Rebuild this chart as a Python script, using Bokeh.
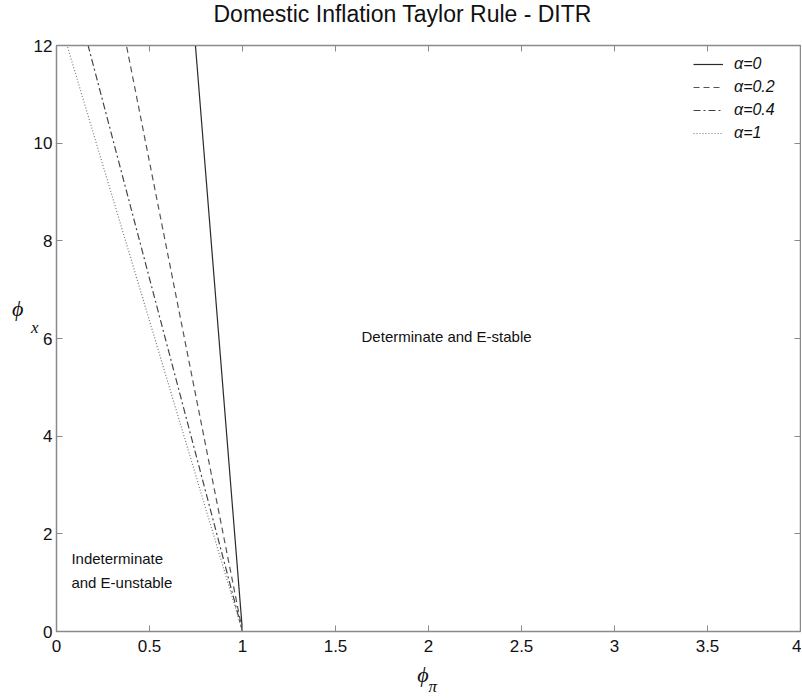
from bokeh.plotting import figure
from bokeh.models import LinearAxis, Legend, LegendItem, Range1d, FixedTicker, CustomJSTickFormatter, Label
from bokeh.embed import file_html
from bokeh.resources import INLINE

# data
series_labels = ["α=0", "α=0.2", "α=0.4", "α=1"]
phi_pi_at_top = [0.747, 0.376, 0.17, 0.057]   # phi_pi where boundary reaches phi_x = 12
phi_pi_at_zero = [1.0, 1.0, 1.0, 1.0]         # all boundaries pass through (1, 0)
phi_x_top = 12
phi_x_zero = 0
x_ticks = [0, 0.5, 1, 1.5, 2, 2.5, 3, 3.5, 4]
y_ticks = [0, 2, 4, 6, 8, 10, 12]

dashes = ["solid", "6 4", "7 3 2 3", "1 2"]
colors = ["#2a2a2a", "#555555", "#444444", "#777777"]

FONT = "Liberation Sans"
SERIF = "Liberation Serif"
FRAME = "#8a8a8a"
NB = "\u00a0"

p = figure(width=801, height=698, output_backend="svg", toolbar_location=None,
           x_range=Range1d(0, 4), y_range=Range1d(0, 12),
           x_axis_location=None, y_axis_location=None,
           min_border_left=56, min_border_right=1, min_border_top=45, min_border_bottom=67)
p.title.text = "Domestic Inflation Taylor Rule - DITR"
p.title.text_font = FONT
p.title.text_font_size = "23px"
p.title.text_font_style = "normal"
p.title.text_color = "#111111"
p.title.align = "left"
p.title.vertical_align = "top"
p.title.offset = 157
p.title.standoff = 0

p.grid.visible = False
p.outline_line_color = FRAME
p.outline_line_width = 1.5
p.background_fill_color = "white"
p.border_fill_color = "white"


def mk_axis(ticks, labels=True):
    ax = LinearAxis()
    ax.ticker = FixedTicker(ticks=ticks)
    ax.axis_line_color = FRAME
    ax.major_tick_line_color = FRAME
    ax.major_tick_in = 6
    ax.major_tick_out = 0
    ax.minor_tick_line_color = None
    ax.major_label_text_font = FONT
    ax.major_label_text_color = "#111111"
    ax.major_label_text_font_size = "17px"
    ax.axis_label_text_font = SERIF
    ax.axis_label_text_font_style = "italic"
    ax.axis_label_text_color = "#111111"
    if not labels:
        ax.formatter = CustomJSTickFormatter(code="return ''")
        ax.major_label_standoff = 0
    return ax


def label_axis(text, size, standoff):
    ax = LinearAxis()
    ax.ticker = FixedTicker(ticks=[])
    ax.axis_line_color = None
    ax.major_tick_line_color = None
    ax.minor_tick_line_color = None
    ax.major_label_standoff = 0
    ax.axis_label = text
    ax.axis_label_text_font = SERIF
    ax.axis_label_text_font_style = "italic"
    ax.axis_label_text_font_size = size
    ax.axis_label_text_color = "#111111"
    ax.axis_label_standoff = standoff
    return ax


# bottom: ticks + phi, then pi subscript
xb = mk_axis(x_ticks)
xb.major_label_standoff = 8
xb.major_label_overrides = {0: "0", 1: "1", 2: "2", 3: "3", 4: "4"}
xb.axis_label = "ϕ" + NB + NB
xb.axis_label_text_font_size = "22px"
xb.axis_label_standoff = 7
p.add_layout(xb, "below")
p.add_layout(label_axis(NB + NB + "π", "17px", -13), "below")

# left: ticks + x subscript, then phi
yl = mk_axis(y_ticks)
yl.major_label_standoff = 4
yl.axis_label = "x\n" + NB
yl.axis_label_text_font_size = "17px"
yl.axis_label_orientation = "horizontal"
yl.axis_label_standoff = -8
p.add_layout(yl, "left")
phl = label_axis("ϕ\n" + NB + "\n" + NB, "22px", 5)
phl.axis_label_orientation = "horizontal"
p.add_layout(phl, "left")

# top: inward ticks, plus a blank spacer label that lifts the title
xtop = mk_axis(x_ticks, labels=False)
xtop.axis_label = NB
xtop.axis_label_text_font_size = "12px"
xtop.axis_label_standoff = 0
p.add_layout(xtop, "above")
p.add_layout(mk_axis(y_ticks, labels=False), "right")

items = []
for lab, x_top, x0, d, c in zip(series_labels, phi_pi_at_top, phi_pi_at_zero, dashes, colors):
    r = p.line([x0, x_top], [phi_x_zero, phi_x_top], line_color=c, line_width=1.2, line_dash=d)
    items.append(LegendItem(label=lab, renderers=[r]))

leg = Legend(items=items, location="top_right")
leg.border_line_color = None
leg.background_fill_alpha = 0
leg.label_text_font = FONT
leg.label_text_font_style = "italic"
leg.label_text_font_size = "16px"
leg.label_text_color = "#111111"
leg.glyph_width = 30
leg.glyph_height = 20
leg.label_height = 20
leg.label_width = 57
leg.spacing = 3
leg.label_standoff = 11
leg.padding = 4
leg.margin = 9
p.add_layout(leg)

for txt, x, y in [("Determinate and E-stable", 1.64, 6.05),
                  ("Indeterminate", 0.08, 1.49),
                  ("and E-unstable", 0.08, 1.0)]:
    p.add_layout(Label(x=x, y=y, text=txt, text_font=FONT, text_font_size="15px",
                       text_baseline="middle", text_color="#111111"))

open("out.html", "w").write(file_html(p, INLINE))
